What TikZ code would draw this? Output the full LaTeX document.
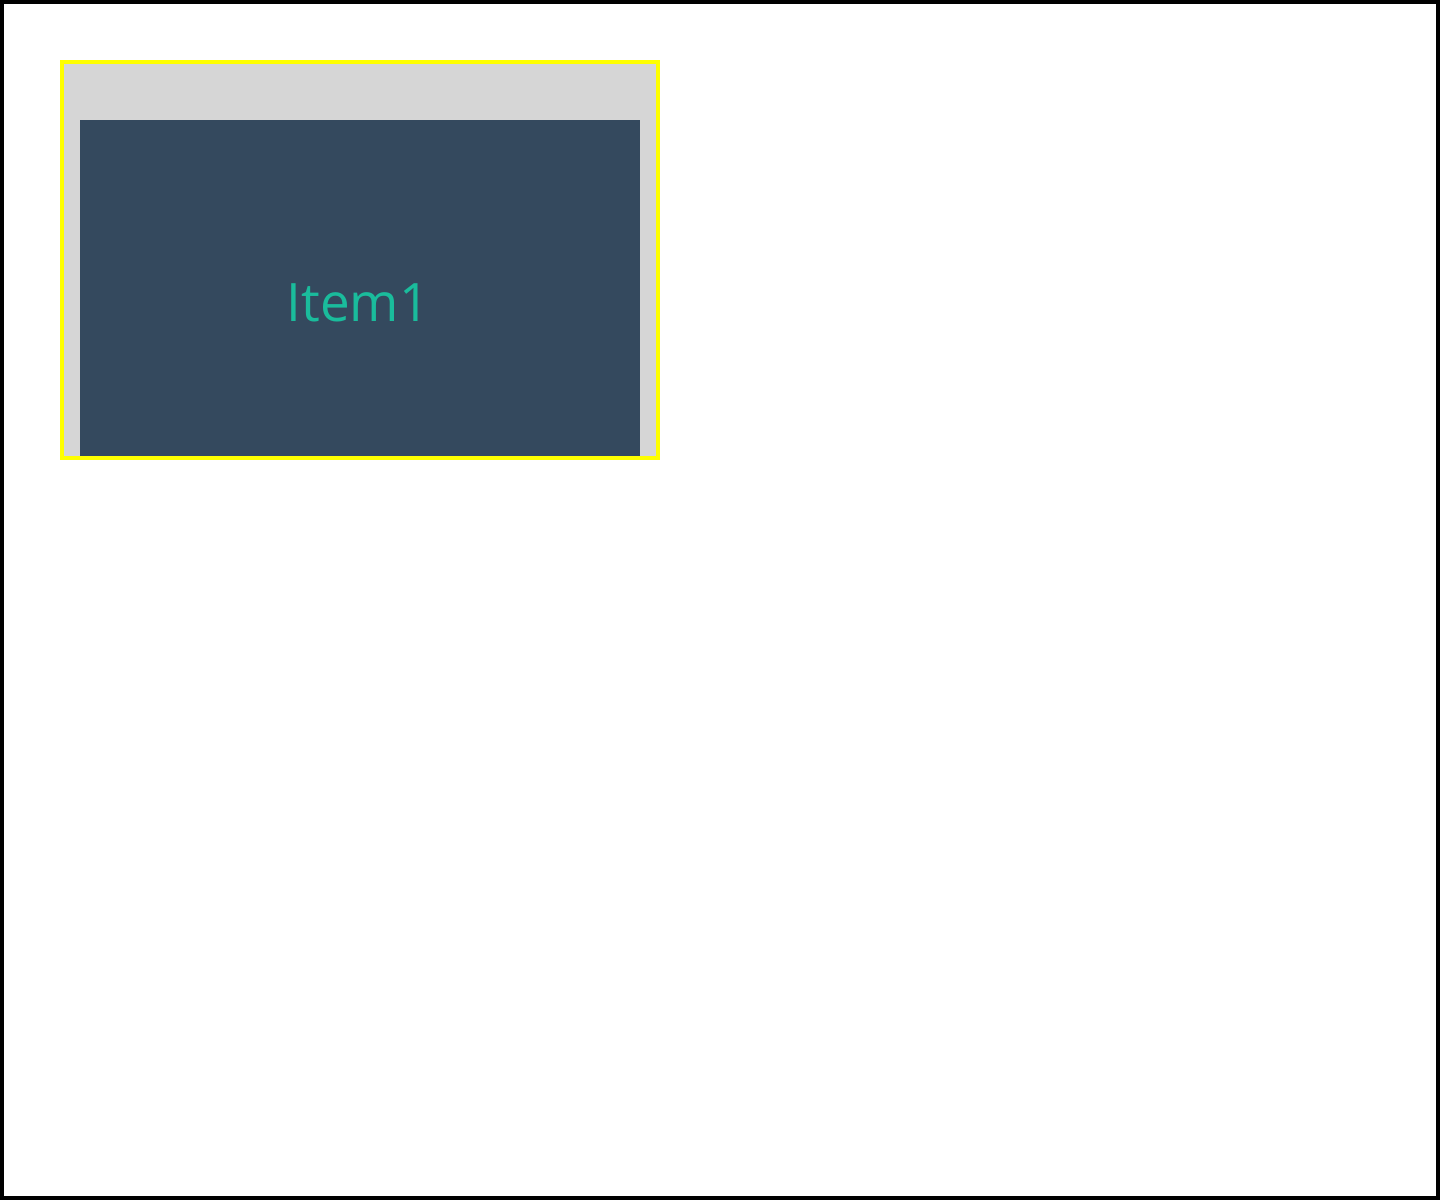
\documentclass[tikz,border=0pt]{standalone}
\usepackage{fontspec}
\setmainfont{Open Sans}
\definecolor{framegray}{HTML}{D6D6D6}
\definecolor{panelblue}{HTML}{34495E}
\definecolor{itemteal}{HTML}{1ABC9C}
\definecolor{frameyellow}{HTML}{FFFF00}
\begin{document}
\begin{tikzpicture}[x=1pt,y=-1pt,
  outerframe/.style={draw=black,line width=4pt},
  container/.style={draw=frameyellow,fill=framegray,line width=4pt},
  panel/.style={fill=panelblue,inner sep=0pt,minimum width=560pt,minimum height=336pt},
  itemlabel/.style={inner sep=0pt,text=itemteal,font=\fontsize{53}{60}\selectfont}]
  \useasboundingbox (0,0) rectangle (1440,1200);
  \fill[white] (0,0) rectangle (1440,1200);
  \draw[outerframe] (2,2) rectangle (1438,1198);
  \draw[container] (62,62) rectangle (658,458);
  \node[panel] (panel1) at (360,288) {};
  \node[itemlabel,anchor=base] (item1) at (358,321) {Item1};
\end{tikzpicture}
\end{document}
